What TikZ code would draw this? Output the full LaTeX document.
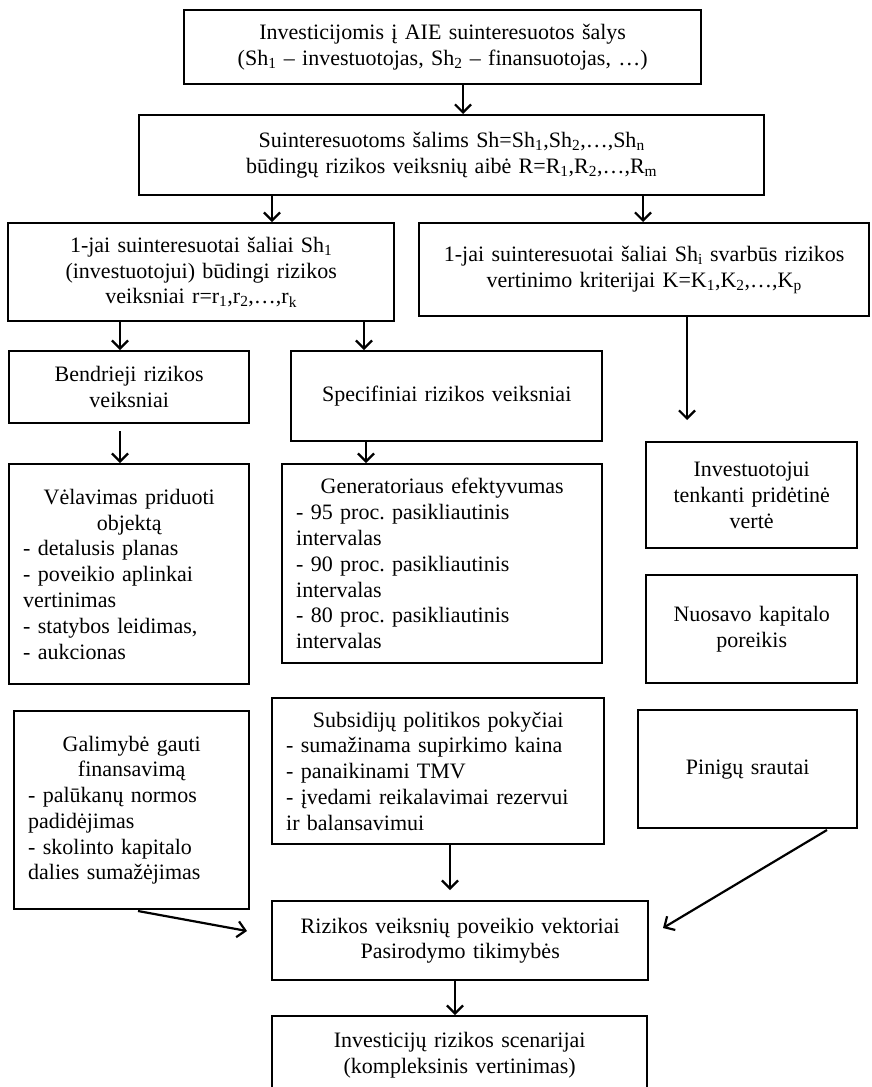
\documentclass[tikz,border=0pt]{standalone}
\usepackage{fontspec}
\setmainfont{Liberation Serif}
\usetikzlibrary{arrows.meta,calc}
\frenchspacing
\tikzset{
  box/.style={draw, line width=2.4pt, anchor=north west, inner xsep=14pt, inner ysep=3pt,
    font=\fontsize{22}{25.8}\selectfont\frenchspacing},
  cbox/.style={box, align=center},
  lbox/.style={box, align=left},
  arr/.style={line width=2.2pt, -{Straight Barb[length=8pt,width=16pt]}},
}
\newcommand{\sbs}[1]{\textsubscript{#1}}
\begin{document}
\begin{tikzpicture}[x=1pt,y=-1pt]
\useasboundingbox[fill=white] (0,0) rectangle (872,1087);
% boxes
\node[cbox, text width=489pt, minimum height=74pt] (b1) at (183,9)
  {Investicijomis į AIE suinteresuotos šalys\\(Sh\sbs{1} – investuotojas, Sh\sbs{2} – finansuotojas, …)};
\node[cbox, text width=597pt, minimum height=80pt] (b2) at (138,114)
  {Suinteresuotoms šalims Sh=Sh\sbs{1},Sh\sbs{2},…,Sh\sbs{n}\\būdingų rizikos veiksnių aibė R=R\sbs{1},R\sbs{2},…,R\sbs{m}};
\node[cbox, text width=358pt, minimum height=98pt] (b3) at (7,222)
  {1-jai suinteresuotai šaliai Sh\sbs{1}\\(investuotojui) būdingi rizikos\\veiksniai r=r\sbs{1},r\sbs{2},…,r\sbs{k}};
\node[cbox, text width=422pt, minimum height=93pt] (b4) at (418,222)
  {1-jai suinteresuotai šaliai Sh\sbs{i} svarbūs rizikos\\vertinimo kriterijai K=K\sbs{1},K\sbs{2},…,K\sbs{p}};
\node[cbox, text width=212pt, minimum height=72pt] (b5) at (8,350)
  {Bendrieji rizikos\\veiksniai};
\node[cbox, text width=283pt, minimum height=90pt] (b6) at (290,350)
  {Specifiniai rizikos veiksniai};
\node[lbox, text width=212pt, minimum height=220pt] (b7) at (8,463)
  {{\centering Vėlavimas priduoti\\objektą\par}- detalusis planas\\- poveikio aplinkai\\vertinimas\\- statybos leidimas,\\- aukcionas};
\node[lbox, text width=292pt, minimum height=199pt] (b8) at (281,463)
  {{\centering Generatoriaus efektyvumas\par}- 95 proc. pasikliautinis\\intervalas\\- 90 proc. pasikliautinis\\intervalas\\- 80 proc. pasikliautinis\\intervalas};
\node[cbox, text width=183pt, minimum height=106pt] (b9) at (645,441)
  {Investuotojui\\tenkanti pridėtinė\\vertė};
\node[cbox, text width=183pt, minimum height=108pt] (b10) at (645,574)
  {Nuosavo kapitalo\\poreikis};
\node[cbox, text width=191pt, minimum height=118pt] (b11) at (637,709)
  {Pinigų srautai};
\node[lbox, text width=207pt, minimum height=198pt] (b12) at (13,710)
  {{\centering Galimybė gauti\\finansavimą\par}- palūkanų normos\\padidėjimas\\- skolinto kapitalo\\dalies sumažėjimas};
\node[lbox, text width=304pt, minimum height=146pt] (b13) at (271,697)
  {{\centering Subsidijų politikos pokyčiai\par}- sumažinama supirkimo kaina\\- panaikinami TMV\\- įvedami reikalavimai rezervui\\ir balansavimui};
\node[cbox, text width=348pt, minimum height=79pt] (b14) at (271,900)
  {Rizikos veiksnių poveikio vektoriai\\Pasirodymo tikimybės};
\node[cbox, text width=347pt, minimum height=78pt] (b15) at (271,1015)
  {Investicijų rizikos scenarijai\\(kompleksinis vertinimas)};
% connector x positions
\coordinate (c1) at (463,0);
\coordinate (c2) at (272,0);
\coordinate (c3) at (643,0);
\coordinate (c4) at (120,0);
\coordinate (c5) at (364,0);
\coordinate (c6) at (687,0);
\coordinate (c7) at (366,0);
\coordinate (c8) at (450,0);
\coordinate (c9) at (455,0);
\draw[arr] (b1.south -| c1) -- (b2.north -| c1);
\draw[arr] (b2.south -| c2) -- (b3.north -| c2);
\draw[arr] (b2.south -| c3) -- (b4.north -| c3);
\draw[arr] (b3.south -| c4) -- (b5.north -| c4);
\draw[arr] (b3.south -| c5) -- (b6.north -| c5);
\draw[arr, shorten >=21pt] (b4.south -| c6) -- (b9.north -| c6);
\draw[arr, shorten <=7pt] (b5.south -| c4) -- (b7.north -| c4);
\draw[arr] (b6.south -| c7) -- (b8.north -| c7);
\draw[arr, shorten >=10pt] (b13.south -| c8) -- (b14.north -| c8);
\draw[arr] (b14.south -| c9) -- (b15.north -| c9);
\coordinate (g1) at (138,911);
\coordinate (g2) at (247,931);
\draw[arr] (g1) -- (g2);
\coordinate (p1) at (827,830);
\coordinate (p2) at (663,928);
\draw[arr] (p1) -- (p2);
\end{tikzpicture}
\end{document}
